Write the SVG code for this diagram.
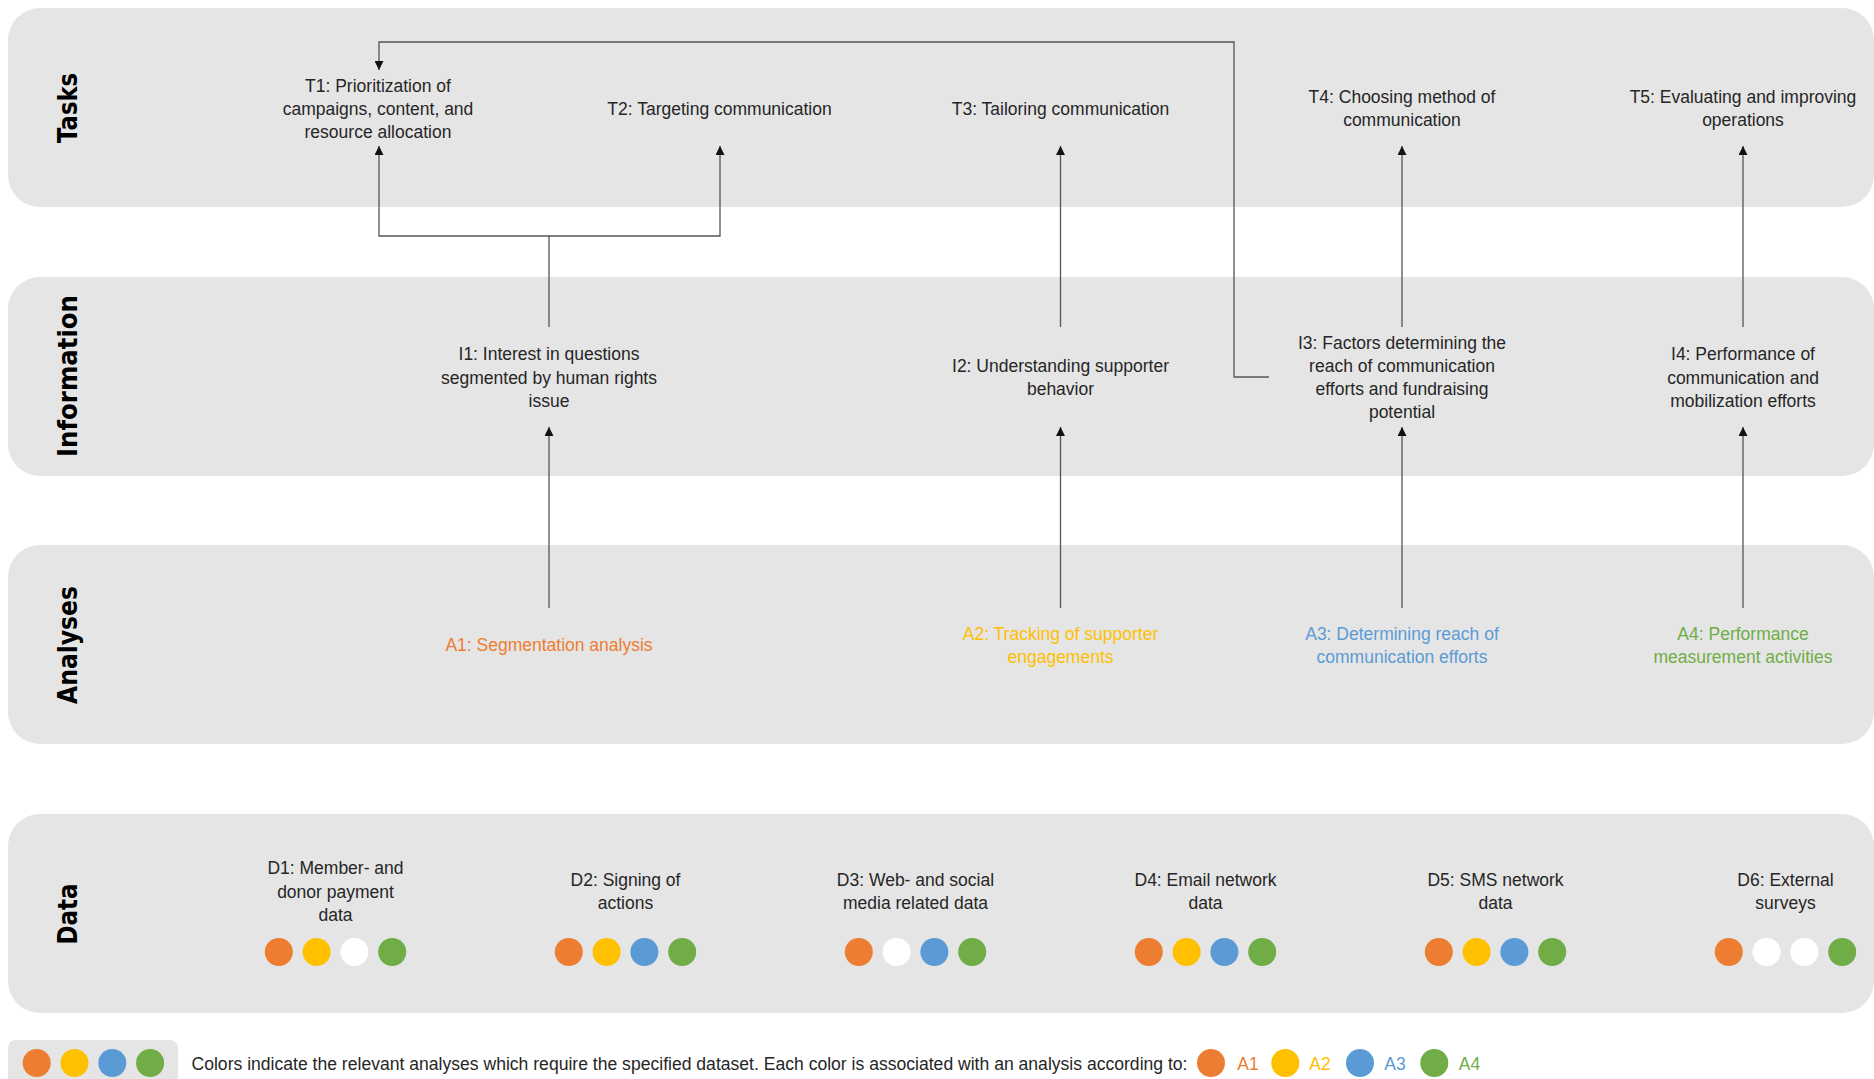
<svg xmlns="http://www.w3.org/2000/svg" width="1874" height="1079" viewBox="0 0 1874 1079">
  <style>
    .band { fill: #e5e5e5; }
    .lane { font-family: "DejaVu Sans", Verdana, sans-serif; font-weight: bold; font-size: 26px; fill: #000; text-anchor: middle; }
    .lbl { font-family: "Liberation Sans", Arial, sans-serif; font-size: 17.5px; fill: #262626; text-anchor: middle; }
    .a1 { fill: #ed7d31; }
    .a2 { fill: #ffc000; }
    .a3 { fill: #5b9bd5; }
    .a4 { fill: #70ad47; }
    .none { fill: #ffffff; }
    .conn { fill: none; stroke: #555555; stroke-width: 1.3; }
  </style>
  <defs>
    <marker id="head" viewBox="0 0 10 10" refX="10" refY="5" markerWidth="9" markerHeight="9" markerUnits="userSpaceOnUse" orient="auto">
      <path d="M0,0 L10,5 L0,10 Z" fill="#111111"/>
    </marker>
  </defs>

  <rect width="1874" height="1079" fill="#ffffff"/>

  <!-- swimlane bands -->
  <g id="lanes">
    <rect class="band" x="8" y="8" width="1866" height="199" rx="32" ry="32"/>
    <rect class="band" x="8" y="277" width="1866" height="199" rx="32" ry="32"/>
    <rect class="band" x="8" y="545" width="1866" height="199" rx="32" ry="32"/>
    <rect class="band" x="8" y="814" width="1866" height="199" rx="32" ry="32"/>
    <rect class="band" x="8" y="1040" width="170" height="60" rx="8" ry="8"/>
    <text class="lane" transform="translate(77,108) rotate(-90)" textLength="70" lengthAdjust="spacingAndGlyphs">Tasks</text>
    <text class="lane" transform="translate(77,376) rotate(-90)" textLength="162" lengthAdjust="spacingAndGlyphs">Information</text>
    <text class="lane" transform="translate(77,645) rotate(-90)" textLength="118" lengthAdjust="spacingAndGlyphs">Analyses</text>
    <text class="lane" transform="translate(77,914) rotate(-90)" textLength="61" lengthAdjust="spacingAndGlyphs">Data</text>
  </g>

  <!-- connectors -->
  <g id="connectors">
    <path class="conn" d="M549,608 V427" marker-end="url(#head)"/>
    <path class="conn" d="M549,327 V236 H379 V146" marker-end="url(#head)"/>
    <path class="conn" d="M549,236 H720 V146" marker-end="url(#head)"/>
    <path class="conn" d="M1060.5,608 V427" marker-end="url(#head)"/>
    <path class="conn" d="M1060.5,327 V146" marker-end="url(#head)"/>
    <path class="conn" d="M1402,608 V427" marker-end="url(#head)"/>
    <path class="conn" d="M1402,327 V146" marker-end="url(#head)"/>
    <path class="conn" d="M1743,608 V427" marker-end="url(#head)"/>
    <path class="conn" d="M1743,327 V146" marker-end="url(#head)"/>
    <path class="conn" d="M1269,377 H1234 V42 H379 V70" marker-end="url(#head)"/>
  </g>

  <!-- tasks -->
  <g id="T1">
    <text class="lbl" x="378" y="91.5">T1: Prioritization of</text>
    <text class="lbl" x="378" y="114.5">campaigns, content, and</text>
    <text class="lbl" x="378" y="137.5">resource allocation</text>
  </g>
  <g id="T2"><text class="lbl" x="719.5" y="115">T2: Targeting communication</text></g>
  <g id="T3"><text class="lbl" x="1060.5" y="115">T3: Tailoring communication</text></g>
  <g id="T4">
    <text class="lbl" x="1402" y="103">T4: Choosing method of</text>
    <text class="lbl" x="1402" y="126">communication</text>
  </g>
  <g id="T5">
    <text class="lbl" x="1743" y="103">T5: Evaluating and improving</text>
    <text class="lbl" x="1743" y="126">operations</text>
  </g>

  <!-- information -->
  <g id="I1">
    <text class="lbl" x="549" y="360">I1: Interest in questions</text>
    <text class="lbl" x="549" y="383.5">segmented by human rights</text>
    <text class="lbl" x="549" y="406.5">issue</text>
  </g>
  <g id="I2">
    <text class="lbl" x="1060.5" y="372">I2: Understanding supporter</text>
    <text class="lbl" x="1060.5" y="395">behavior</text>
  </g>
  <g id="I3">
    <text class="lbl" x="1402" y="348.5">I3: Factors determining the</text>
    <text class="lbl" x="1402" y="372">reach of communication</text>
    <text class="lbl" x="1402" y="395">efforts and fundraising</text>
    <text class="lbl" x="1402" y="418">potential</text>
  </g>
  <g id="I4">
    <text class="lbl" x="1743" y="360">I4: Performance of</text>
    <text class="lbl" x="1743" y="383.5">communication and</text>
    <text class="lbl" x="1743" y="406.5">mobilization efforts</text>
  </g>

  <!-- analyses -->
  <g id="A1"><text class="lbl a1" x="549" y="651">A1: Segmentation analysis</text></g>
  <g id="A2">
    <text class="lbl a2" x="1060.5" y="639.5">A2: Tracking of supporter</text>
    <text class="lbl a2" x="1060.5" y="663">engagements</text>
  </g>
  <g id="A3">
    <text class="lbl a3" x="1402" y="639.5">A3: Determining reach of</text>
    <text class="lbl a3" x="1402" y="663">communication efforts</text>
  </g>
  <g id="A4">
    <text class="lbl a4" x="1743" y="639.5">A4: Performance</text>
    <text class="lbl a4" x="1743" y="663">measurement activities</text>
  </g>

  <!-- data sources, each with its analysis dots -->
  <g id="D1">
    <text class="lbl" x="335.5" y="874">D1: Member- and</text>
    <text class="lbl" x="335.5" y="897.5">donor payment</text>
    <text class="lbl" x="335.5" y="920.5">data</text>
    <circle class="a1" cx="278.8" cy="952" r="14"/>
    <circle class="a2" cx="316.6" cy="952" r="14"/>
    <circle class="none" cx="354.4" cy="952" r="14"/>
    <circle class="a4" cx="392.2" cy="952" r="14"/>
  </g>
  <g id="D2">
    <text class="lbl" x="625.5" y="885.5">D2: Signing of</text>
    <text class="lbl" x="625.5" y="909">actions</text>
    <circle class="a1" cx="568.8" cy="952" r="14"/>
    <circle class="a2" cx="606.6" cy="952" r="14"/>
    <circle class="a3" cx="644.4" cy="952" r="14"/>
    <circle class="a4" cx="682.2" cy="952" r="14"/>
  </g>
  <g id="D3">
    <text class="lbl" x="915.5" y="885.5">D3: Web- and social</text>
    <text class="lbl" x="915.5" y="909">media related data</text>
    <circle class="a1" cx="858.8" cy="952" r="14"/>
    <circle class="none" cx="896.6" cy="952" r="14"/>
    <circle class="a3" cx="934.4" cy="952" r="14"/>
    <circle class="a4" cx="972.2" cy="952" r="14"/>
  </g>
  <g id="D4">
    <text class="lbl" x="1205.5" y="885.5">D4: Email network</text>
    <text class="lbl" x="1205.5" y="909">data</text>
    <circle class="a1" cx="1148.8" cy="952" r="14"/>
    <circle class="a2" cx="1186.6" cy="952" r="14"/>
    <circle class="a3" cx="1224.4" cy="952" r="14"/>
    <circle class="a4" cx="1262.2" cy="952" r="14"/>
  </g>
  <g id="D5">
    <text class="lbl" x="1495.5" y="885.5">D5: SMS network</text>
    <text class="lbl" x="1495.5" y="909">data</text>
    <circle class="a1" cx="1438.8" cy="952" r="14"/>
    <circle class="a2" cx="1476.6" cy="952" r="14"/>
    <circle class="a3" cx="1514.4" cy="952" r="14"/>
    <circle class="a4" cx="1552.2" cy="952" r="14"/>
  </g>
  <g id="D6">
    <text class="lbl" x="1785.5" y="885.5">D6: External</text>
    <text class="lbl" x="1785.5" y="909">surveys</text>
    <circle class="a1" cx="1728.8" cy="952" r="14"/>
    <circle class="none" cx="1766.6" cy="952" r="14"/>
    <circle class="none" cx="1804.4" cy="952" r="14"/>
    <circle class="a4" cx="1842.2" cy="952" r="14"/>
  </g>

  <!-- colour key -->
  <g id="legend">
    <circle class="a1" cx="36.7" cy="1063" r="14"/>
    <circle class="a2" cx="74.5" cy="1063" r="14"/>
    <circle class="a3" cx="112.3" cy="1063" r="14"/>
    <circle class="a4" cx="150.1" cy="1063" r="14"/>
    <text class="lbl" x="191.5" y="1069.5" style="text-anchor:start" textLength="996" lengthAdjust="spacingAndGlyphs">Colors indicate the relevant analyses which require the specified dataset. Each color is associated with an analysis according to:</text>
    <circle class="a1" cx="1211" cy="1063" r="14"/>
    <text class="lbl a1" x="1248" y="1069.5">A1</text>
    <circle class="a2" cx="1285.3" cy="1063" r="14"/>
    <text class="lbl a2" x="1320" y="1069.5">A2</text>
    <circle class="a3" cx="1360" cy="1063" r="14"/>
    <text class="lbl a3" x="1395" y="1069.5">A3</text>
    <circle class="a4" cx="1434.3" cy="1063" r="14"/>
    <text class="lbl a4" x="1469.5" y="1069.5">A4</text>
  </g>
</svg>
